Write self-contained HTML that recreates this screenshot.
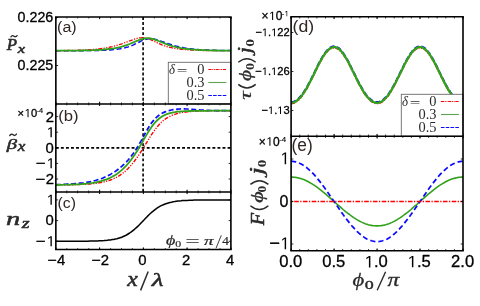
<!DOCTYPE html>
<html><head><meta charset="utf-8"><title>figure</title>
<style>
html,body{margin:0;padding:0;background:#fff;}
body{width:480px;height:306px;overflow:hidden;font-family:"Liberation Sans",sans-serif;}
svg{display:block;will-change:transform;}
</style></head><body>
<svg width="480" height="306" viewBox="0 0 480 306">
<rect width="480" height="306" fill="#fff"/>

<g fill="none" stroke-linejoin="round">
<line x1="143.1" y1="17.0" x2="143.1" y2="191.9" stroke="#000" stroke-width="1.6" stroke-dasharray="2.9,2.15"/>
<line x1="55.85" y1="147.85" x2="230.9" y2="147.85" stroke="#000" stroke-width="1.6" stroke-dasharray="2.9,2.15"/>
<path d="M55.9,50.8L57.5,50.8L59.1,50.8L60.7,50.7L62.3,50.7L63.9,50.7L65.5,50.7L67.1,50.7L68.7,50.7L70.3,50.7L71.9,50.7L73.5,50.7L75.1,50.7L76.7,50.7L78.3,50.7L79.9,50.7L81.5,50.7L83.2,50.7L84.8,50.7L86.4,50.6L88.0,50.6L89.6,50.6L91.2,50.6L92.8,50.6L94.4,50.5L96.0,50.5L97.6,50.5L99.2,50.4L100.8,50.4L102.4,50.3L104.0,50.2L105.6,50.2L107.2,50.1L108.8,50.0L110.5,49.9L112.1,49.7L113.7,49.6L115.3,49.4L116.9,49.2L118.5,49.0L120.1,48.8L121.7,48.5L123.3,48.1L124.9,47.8L126.5,47.3L128.1,46.9L129.7,46.3L131.3,45.7L132.9,45.1L134.5,44.3L136.1,43.6L137.8,42.8L139.4,42.0L141.0,41.2L142.6,40.4L144.2,39.8L145.8,39.3L147.4,38.9L149.0,38.7L150.6,38.7L152.2,38.8L153.8,39.0L155.4,39.4L157.0,39.8L158.6,40.3L160.2,40.9L161.8,41.5L163.4,42.0L165.1,42.6L166.7,43.2L168.3,43.8L169.9,44.3L171.5,44.8L173.1,45.3L174.7,45.8L176.3,46.2L177.9,46.6L179.5,47.0L181.1,47.3L182.7,47.6L184.3,47.9L185.9,48.2L187.5,48.4L189.1,48.6L190.8,48.8L192.4,49.0L194.0,49.2L195.6,49.3L197.2,49.4L198.8,49.6L200.4,49.7L202.0,49.8L203.6,49.9L205.2,50.0L206.8,50.0L208.4,50.1L210.0,50.2L211.6,50.2L213.2,50.3L214.8,50.3L216.4,50.4L218.1,50.4L219.7,50.4L221.3,50.5L222.9,50.5L224.5,50.5L226.1,50.5L227.7,50.6L229.3,50.6L230.9,50.6" stroke="#0a0aff" stroke-width="1.5" stroke-dasharray="5,2.6"/>
<path d="M55.9,50.6L57.5,50.6L59.1,50.6L60.7,50.6L62.3,50.6L63.9,50.5L65.5,50.5L67.1,50.5L68.7,50.5L70.3,50.4L71.9,50.4L73.5,50.3L75.1,50.3L76.7,50.3L78.3,50.2L79.9,50.1L81.5,50.1L83.2,50.0L84.8,49.9L86.4,49.9L88.0,49.8L89.6,49.7L91.2,49.6L92.8,49.4L94.4,49.3L96.0,49.2L97.6,49.0L99.2,48.8L100.8,48.6L102.4,48.4L104.0,48.2L105.6,47.9L107.2,47.6L108.8,47.3L110.5,47.0L112.1,46.7L113.7,46.3L115.3,45.8L116.9,45.4L118.5,44.9L120.1,44.4L121.7,43.9L123.3,43.3L124.9,42.7L126.5,42.1L128.1,41.5L129.7,40.9L131.3,40.3L132.9,39.7L134.5,39.1L136.1,38.6L137.8,38.2L139.4,37.9L141.0,37.8L142.6,37.7L144.2,37.8L145.8,38.1L147.4,38.5L149.0,39.0L150.6,39.6L152.2,40.3L153.8,41.1L155.4,41.9L157.0,42.7L158.6,43.4L160.2,44.1L161.8,44.8L163.4,45.4L165.1,46.0L166.7,46.5L168.3,46.9L169.9,47.4L171.5,47.7L173.1,48.1L174.7,48.4L176.3,48.6L177.9,48.9L179.5,49.1L181.1,49.3L182.7,49.4L184.3,49.6L185.9,49.7L187.5,49.8L189.1,49.9L190.8,50.0L192.4,50.1L194.0,50.2L195.6,50.2L197.2,50.3L198.8,50.4L200.4,50.4L202.0,50.4L203.6,50.5L205.2,50.5L206.8,50.5L208.4,50.6L210.0,50.6L211.6,50.6L213.2,50.6L214.8,50.6L216.4,50.7L218.1,50.7L219.7,50.7L221.3,50.7L222.9,50.7L224.5,50.7L226.1,50.7L227.7,50.7L229.3,50.7L230.9,50.7" stroke="#ff0000" stroke-width="1.3" stroke-dasharray="4,1.4,1.2,1.4,1.2,1.4"/>
<path d="M55.9,50.7L57.5,50.7L59.1,50.7L60.7,50.7L62.3,50.7L63.9,50.7L65.5,50.7L67.1,50.7L68.7,50.7L70.3,50.6L71.9,50.6L73.5,50.6L75.1,50.6L76.7,50.6L78.3,50.6L79.9,50.5L81.5,50.5L83.2,50.5L84.8,50.4L86.4,50.4L88.0,50.4L89.6,50.3L91.2,50.3L92.8,50.2L94.4,50.1L96.0,50.1L97.6,50.0L99.2,49.9L100.8,49.8L102.4,49.7L104.0,49.5L105.6,49.4L107.2,49.2L108.8,49.0L110.5,48.8L112.1,48.6L113.7,48.4L115.3,48.1L116.9,47.8L118.5,47.5L120.1,47.1L121.7,46.7L123.3,46.2L124.9,45.7L126.5,45.2L128.1,44.6L129.7,44.0L131.3,43.3L132.9,42.6L134.5,41.9L136.1,41.2L137.8,40.6L139.4,39.9L141.0,39.4L142.6,38.9L144.2,38.5L145.8,38.3L147.4,38.2L149.0,38.2L150.6,38.5L152.2,38.8L153.8,39.2L155.4,39.8L157.0,40.4L158.6,41.0L160.2,41.7L161.8,42.3L163.4,43.0L165.1,43.6L166.7,44.2L168.3,44.8L169.9,45.3L171.5,45.8L173.1,46.3L174.7,46.7L176.3,47.1L177.9,47.5L179.5,47.8L181.1,48.1L182.7,48.3L184.3,48.6L185.9,48.8L187.5,49.0L189.1,49.2L190.8,49.3L192.4,49.5L194.0,49.6L195.6,49.7L197.2,49.8L198.8,49.9L200.4,50.0L202.0,50.1L203.6,50.2L205.2,50.2L206.8,50.3L208.4,50.3L210.0,50.4L211.6,50.4L213.2,50.4L214.8,50.5L216.4,50.5L218.1,50.5L219.7,50.6L221.3,50.6L222.9,50.6L224.5,50.6L226.1,50.6L227.7,50.6L229.3,50.7L230.9,50.7" stroke="#31a21b" stroke-width="1.8"/>
<path d="M55.9,184.9L57.5,184.9L59.1,184.9L60.7,184.9L62.3,184.9L63.9,184.8L65.5,184.8L67.1,184.8L68.7,184.8L70.3,184.8L71.9,184.7L73.5,184.7L75.1,184.7L76.7,184.6L78.3,184.6L79.9,184.5L81.5,184.4L83.2,184.4L84.8,184.3L86.4,184.2L88.0,184.1L89.6,184.0L91.2,183.8L92.8,183.7L94.4,183.5L96.0,183.3L97.6,183.1L99.2,182.8L100.8,182.6L102.4,182.2L104.0,181.9L105.6,181.5L107.2,181.0L108.8,180.6L110.5,180.0L112.1,179.4L113.7,178.7L115.3,177.9L116.9,177.1L118.5,176.2L120.1,175.1L121.7,174.0L123.3,172.8L124.9,171.5L126.5,170.0L128.1,168.5L129.7,166.8L131.3,165.0L132.9,163.0L134.5,161.0L136.1,158.8L137.8,156.5L139.4,154.2L141.0,151.7L142.6,149.1L144.2,146.5L145.8,143.9L147.4,141.3L149.0,138.7L150.6,136.2L152.2,133.7L153.8,131.4L155.4,129.2L157.0,127.1L158.6,125.2L160.2,123.5L161.8,121.9L163.4,120.5L165.1,119.2L166.7,118.1L168.3,117.1L169.9,116.3L171.5,115.5L173.1,114.9L174.7,114.3L176.3,113.8L177.9,113.4L179.5,113.0L181.1,112.7L182.7,112.4L184.3,112.2L185.9,112.0L187.5,111.8L189.1,111.6L190.8,111.5L192.4,111.4L194.0,111.3L195.6,111.2L197.2,111.1L198.8,111.1L200.4,111.0L202.0,111.0L203.6,110.9L205.2,110.9L206.8,110.9L208.4,110.9L210.0,110.8L211.6,110.8L213.2,110.8L214.8,110.8L216.4,110.8L218.1,110.8L219.7,110.8L221.3,110.8L222.9,110.8L224.5,110.8L226.1,110.7L227.7,110.7L229.3,110.7L230.9,110.7" stroke="#ff0000" stroke-width="1.4" stroke-dasharray="4,1.4,1.2,1.4,1.2,1.4"/>
<path d="M55.9,184.6L57.5,184.6L59.1,184.5L60.7,184.5L62.3,184.4L63.9,184.4L65.5,184.3L67.1,184.2L68.7,184.1L70.3,184.0L71.9,183.9L73.5,183.8L75.1,183.7L76.7,183.6L78.3,183.4L79.9,183.2L81.5,183.1L83.2,182.9L84.8,182.6L86.4,182.4L88.0,182.1L89.6,181.8L91.2,181.5L92.8,181.1L94.4,180.7L96.0,180.3L97.6,179.8L99.2,179.3L100.8,178.8L102.4,178.2L104.0,177.5L105.6,176.8L107.2,176.1L108.8,175.2L110.5,174.4L112.1,173.4L113.7,172.4L115.3,171.4L116.9,170.2L118.5,169.0L120.1,167.7L121.7,166.4L123.3,164.9L124.9,163.4L126.5,161.8L128.1,160.0L129.7,158.1L131.3,156.1L132.9,154.0L134.5,151.7L136.1,149.2L137.8,146.6L139.4,143.9L141.0,141.1L142.6,138.2L144.2,135.2L145.8,132.3L147.4,129.5L149.0,126.8L150.6,124.4L152.2,122.1L153.8,120.1L155.4,118.3L157.0,116.8L158.6,115.5L160.2,114.3L161.8,113.4L163.4,112.6L165.1,111.9L166.7,111.3L168.3,110.8L169.9,110.4L171.5,110.0L173.1,109.7L174.7,109.5L176.3,109.3L177.9,109.1L179.5,109.0L181.1,108.9L182.7,108.9L184.3,108.9L185.9,109.0L187.5,109.0L189.1,109.1L190.8,109.2L192.4,109.3L194.0,109.5L195.6,109.6L197.2,109.7L198.8,109.9L200.4,110.0L202.0,110.1L203.6,110.2L205.2,110.3L206.8,110.4L208.4,110.4L210.0,110.5L211.6,110.6L213.2,110.6L214.8,110.6L216.4,110.6L218.1,110.7L219.7,110.7L221.3,110.7L222.9,110.7L224.5,110.7L226.1,110.7L227.7,110.7L229.3,110.7L230.9,110.7" stroke="#0a0aff" stroke-width="1.7" stroke-dasharray="5,2.6"/>
<path d="M55.9,184.8L57.5,184.8L59.1,184.8L60.7,184.8L62.3,184.8L63.9,184.7L65.5,184.7L67.1,184.7L68.7,184.6L70.3,184.6L71.9,184.5L73.5,184.5L75.1,184.4L76.7,184.3L78.3,184.3L79.9,184.2L81.5,184.1L83.2,183.9L84.8,183.8L86.4,183.7L88.0,183.5L89.6,183.3L91.2,183.1L92.8,182.9L94.4,182.6L96.0,182.3L97.6,182.0L99.2,181.6L100.8,181.2L102.4,180.7L104.0,180.2L105.6,179.7L107.2,179.1L108.8,178.4L110.5,177.6L112.1,176.8L113.7,175.9L115.3,174.9L116.9,173.9L118.5,172.7L120.1,171.4L121.7,170.1L123.3,168.6L124.9,167.0L126.5,165.3L128.1,163.5L129.7,161.6L131.3,159.5L132.9,157.3L134.5,154.9L136.1,152.5L137.8,149.9L139.4,147.2L141.0,144.5L142.6,141.7L144.2,138.9L145.8,136.1L147.4,133.4L149.0,130.8L150.6,128.4L152.2,126.1L153.8,124.0L155.4,122.1L157.0,120.5L158.6,119.0L160.2,117.7L161.8,116.6L163.4,115.7L165.1,114.9L166.7,114.2L168.3,113.7L169.9,113.2L171.5,112.8L173.1,112.4L174.7,112.2L176.3,111.9L177.9,111.7L179.5,111.6L181.1,111.4L182.7,111.3L184.3,111.2L185.9,111.1L187.5,111.1L189.1,111.0L190.8,111.0L192.4,110.9L194.0,110.9L195.6,110.9L197.2,110.8L198.8,110.8L200.4,110.8L202.0,110.8L203.6,110.8L205.2,110.8L206.8,110.8L208.4,110.8L210.0,110.7L211.6,110.7L213.2,110.7L214.8,110.7L216.4,110.7L218.1,110.7L219.7,110.7L221.3,110.7L222.9,110.7L224.5,110.7L226.1,110.7L227.7,110.7L229.3,110.7L230.9,110.7" stroke="#31a21b" stroke-width="1.8"/>
<path d="M55.9,241.3L57.5,241.3L59.1,241.3L60.7,241.3L62.3,241.3L63.9,241.3L65.5,241.3L67.1,241.3L68.7,241.3L70.3,241.3L71.9,241.3L73.5,241.3L75.1,241.3L76.7,241.3L78.3,241.2L79.9,241.2L81.5,241.2L83.2,241.2L84.8,241.2L86.4,241.2L88.0,241.2L89.6,241.1L91.2,241.1L92.8,241.1L94.4,241.0L96.0,241.0L97.6,240.9L99.2,240.8L100.8,240.8L102.4,240.7L104.0,240.6L105.6,240.4L107.2,240.3L108.8,240.1L110.5,239.9L112.1,239.6L113.7,239.4L115.3,239.0L116.9,238.7L118.5,238.2L120.1,237.7L121.7,237.2L123.3,236.5L124.9,235.8L126.5,235.0L128.1,234.0L129.7,233.0L131.3,231.9L132.9,230.6L134.5,229.3L136.1,227.9L137.8,226.4L139.4,224.8L141.0,223.1L142.6,221.4L144.2,219.8L145.8,218.1L147.4,216.4L149.0,214.8L150.6,213.3L152.2,211.9L153.8,210.6L155.4,209.3L157.0,208.2L158.6,207.2L160.2,206.2L161.8,205.4L163.4,204.7L165.1,204.0L166.7,203.5L168.3,203.0L169.9,202.5L171.5,202.2L173.1,201.8L174.7,201.6L176.3,201.3L177.9,201.1L179.5,200.9L181.1,200.8L182.7,200.6L184.3,200.5L185.9,200.4L187.5,200.4L189.1,200.3L190.8,200.2L192.4,200.2L194.0,200.1L195.6,200.1L197.2,200.1L198.8,200.0L200.4,200.0L202.0,200.0L203.6,200.0L205.2,200.0L206.8,200.0L208.4,200.0L210.0,199.9L211.6,199.9L213.2,199.9L214.8,199.9L216.4,199.9L218.1,199.9L219.7,199.9L221.3,199.9L222.9,199.9L224.5,199.9L226.1,199.9L227.7,199.9L229.3,199.9L230.9,199.9" stroke="#000" stroke-width="1.5"/>
<path d="M291.1,102.8L292.7,102.7L294.3,102.2L295.8,101.4L297.4,100.3L299.0,98.8L300.6,97.1L302.1,95.2L303.7,92.9L305.3,90.4L306.9,87.8L308.4,84.9L310.0,81.9L311.6,78.7L313.2,75.5L314.8,72.3L316.3,69.1L317.9,65.9L319.5,62.8L321.1,59.9L322.6,57.2L324.2,54.8L325.8,52.6L327.4,50.7L328.9,49.2L330.5,48.1L332.1,47.4L333.7,47.1L335.3,47.2L336.8,47.7L338.4,48.6L340.0,49.9L341.6,51.6L343.1,53.6L344.7,56.0L346.3,58.5L347.9,61.4L349.5,64.3L351.0,67.5L352.6,70.7L354.2,73.9L355.8,77.1L357.3,80.3L358.9,83.4L360.5,86.3L362.1,89.1L363.6,91.7L365.2,94.1L366.8,96.2L368.4,98.0L370.0,99.6L371.5,100.9L373.1,101.8L374.7,102.5L376.3,102.8L377.8,102.8L379.4,102.5L381.0,101.8L382.6,100.9L384.1,99.6L385.7,98.0L387.3,96.2L388.9,94.1L390.5,91.7L392.0,89.1L393.6,86.3L395.2,83.4L396.8,80.3L398.3,77.1L399.9,73.9L401.5,70.7L403.1,67.5L404.6,64.3L406.2,61.4L407.8,58.5L409.4,56.0L411.0,53.6L412.5,51.6L414.1,49.9L415.7,48.6L417.3,47.7L418.8,47.2L420.4,47.1L422.0,47.4L423.6,48.1L425.2,49.2L426.7,50.7L428.3,52.6L429.9,54.8L431.5,57.2L433.0,59.9L434.6,62.8L436.2,65.9L437.8,69.1L439.3,72.3L440.9,75.5L442.5,78.7L444.1,81.9L445.7,84.9L447.2,87.8L448.8,90.4L450.4,92.9L452.0,95.2L453.5,97.1L455.1,98.8L456.7,100.3L458.3,101.4L459.8,102.2L461.4,102.7L463.0,102.8" stroke="#ff0000" stroke-width="1.5" transform="translate(0,0.8)" stroke-dasharray="4,1.4,1.2,1.4,1.2,1.4"/>
<path d="M291.1,102.8L292.7,102.7L294.3,102.2L295.8,101.4L297.4,100.3L299.0,98.8L300.6,97.1L302.1,95.2L303.7,92.9L305.3,90.4L306.9,87.8L308.4,84.9L310.0,81.9L311.6,78.7L313.2,75.5L314.8,72.3L316.3,69.1L317.9,65.9L319.5,62.8L321.1,59.9L322.6,57.2L324.2,54.8L325.8,52.6L327.4,50.7L328.9,49.2L330.5,48.1L332.1,47.4L333.7,47.1L335.3,47.2L336.8,47.7L338.4,48.6L340.0,49.9L341.6,51.6L343.1,53.6L344.7,56.0L346.3,58.5L347.9,61.4L349.5,64.3L351.0,67.5L352.6,70.7L354.2,73.9L355.8,77.1L357.3,80.3L358.9,83.4L360.5,86.3L362.1,89.1L363.6,91.7L365.2,94.1L366.8,96.2L368.4,98.0L370.0,99.6L371.5,100.9L373.1,101.8L374.7,102.5L376.3,102.8L377.8,102.8L379.4,102.5L381.0,101.8L382.6,100.9L384.1,99.6L385.7,98.0L387.3,96.2L388.9,94.1L390.5,91.7L392.0,89.1L393.6,86.3L395.2,83.4L396.8,80.3L398.3,77.1L399.9,73.9L401.5,70.7L403.1,67.5L404.6,64.3L406.2,61.4L407.8,58.5L409.4,56.0L411.0,53.6L412.5,51.6L414.1,49.9L415.7,48.6L417.3,47.7L418.8,47.2L420.4,47.1L422.0,47.4L423.6,48.1L425.2,49.2L426.7,50.7L428.3,52.6L429.9,54.8L431.5,57.2L433.0,59.9L434.6,62.8L436.2,65.9L437.8,69.1L439.3,72.3L440.9,75.5L442.5,78.7L444.1,81.9L445.7,84.9L447.2,87.8L448.8,90.4L450.4,92.9L452.0,95.2L453.5,97.1L455.1,98.8L456.7,100.3L458.3,101.4L459.8,102.2L461.4,102.7L463.0,102.8" stroke="#0a0aff" stroke-width="1.7" transform="translate(0,-0.9)" stroke-dasharray="5,2.6"/>
<path d="M291.1,102.8L292.7,102.7L294.3,102.2L295.8,101.4L297.4,100.3L299.0,98.8L300.6,97.1L302.1,95.2L303.7,92.9L305.3,90.4L306.9,87.8L308.4,84.9L310.0,81.9L311.6,78.7L313.2,75.5L314.8,72.3L316.3,69.1L317.9,65.9L319.5,62.8L321.1,59.9L322.6,57.2L324.2,54.8L325.8,52.6L327.4,50.7L328.9,49.2L330.5,48.1L332.1,47.4L333.7,47.1L335.3,47.2L336.8,47.7L338.4,48.6L340.0,49.9L341.6,51.6L343.1,53.6L344.7,56.0L346.3,58.5L347.9,61.4L349.5,64.3L351.0,67.5L352.6,70.7L354.2,73.9L355.8,77.1L357.3,80.3L358.9,83.4L360.5,86.3L362.1,89.1L363.6,91.7L365.2,94.1L366.8,96.2L368.4,98.0L370.0,99.6L371.5,100.9L373.1,101.8L374.7,102.5L376.3,102.8L377.8,102.8L379.4,102.5L381.0,101.8L382.6,100.9L384.1,99.6L385.7,98.0L387.3,96.2L388.9,94.1L390.5,91.7L392.0,89.1L393.6,86.3L395.2,83.4L396.8,80.3L398.3,77.1L399.9,73.9L401.5,70.7L403.1,67.5L404.6,64.3L406.2,61.4L407.8,58.5L409.4,56.0L411.0,53.6L412.5,51.6L414.1,49.9L415.7,48.6L417.3,47.7L418.8,47.2L420.4,47.1L422.0,47.4L423.6,48.1L425.2,49.2L426.7,50.7L428.3,52.6L429.9,54.8L431.5,57.2L433.0,59.9L434.6,62.8L436.2,65.9L437.8,69.1L439.3,72.3L440.9,75.5L442.5,78.7L444.1,81.9L445.7,84.9L447.2,87.8L448.8,90.4L450.4,92.9L452.0,95.2L453.5,97.1L455.1,98.8L456.7,100.3L458.3,101.4L459.8,102.2L461.4,102.7L463.0,102.8" stroke="#31a21b" stroke-width="2.3"/>
<path d="M291.1,177.1L292.7,177.1L294.3,177.2L295.8,177.4L297.4,177.7L299.0,178.1L300.6,178.5L302.1,179.0L303.7,179.6L305.3,180.3L306.9,181.0L308.4,181.8L310.0,182.7L311.6,183.6L313.2,184.6L314.8,185.6L316.3,186.7L317.9,187.9L319.5,189.1L321.1,190.3L322.6,191.6L324.2,192.9L325.8,194.2L327.4,195.6L328.9,196.9L330.5,198.3L332.1,199.7L333.7,201.1L335.3,202.6L336.8,204.0L338.4,205.4L340.0,206.7L341.6,208.1L343.1,209.5L344.7,210.8L346.3,212.1L347.9,213.3L349.5,214.5L351.0,215.7L352.6,216.8L354.2,217.9L355.8,218.9L357.3,219.9L358.9,220.8L360.5,221.6L362.1,222.4L363.6,223.1L365.2,223.7L366.8,224.2L368.4,224.7L370.0,225.1L371.5,225.4L373.1,225.7L374.7,225.8L376.3,225.9L377.8,225.9L379.4,225.8L381.0,225.7L382.6,225.4L384.1,225.1L385.7,224.7L387.3,224.2L388.9,223.7L390.5,223.1L392.0,222.4L393.6,221.6L395.2,220.8L396.8,219.9L398.3,218.9L399.9,217.9L401.5,216.8L403.1,215.7L404.6,214.5L406.2,213.3L407.8,212.1L409.4,210.8L411.0,209.5L412.5,208.1L414.1,206.7L415.7,205.4L417.3,204.0L418.8,202.6L420.4,201.1L422.0,199.7L423.6,198.3L425.2,196.9L426.7,195.6L428.3,194.2L429.9,192.9L431.5,191.6L433.0,190.3L434.6,189.1L436.2,187.9L437.8,186.7L439.3,185.6L440.9,184.6L442.5,183.6L444.1,182.7L445.7,181.8L447.2,181.0L448.8,180.3L450.4,179.6L452.0,179.0L453.5,178.5L455.1,178.1L456.7,177.7L458.3,177.4L459.8,177.2L461.4,177.1L463.0,177.1" stroke="#31a21b" stroke-width="1.6"/>
<path d="M291.1,161.3L292.7,161.4L294.3,161.6L295.8,161.9L297.4,162.4L299.0,163.0L300.6,163.7L302.1,164.6L303.7,165.5L305.3,166.6L306.9,167.8L308.4,169.1L310.0,170.6L311.6,172.1L313.2,173.7L314.8,175.4L316.3,177.2L317.9,179.1L319.5,181.1L321.1,183.1L322.6,185.2L324.2,187.3L325.8,189.5L327.4,191.8L328.9,194.0L330.5,196.3L332.1,198.6L333.7,200.9L335.3,203.2L336.8,205.5L338.4,207.8L340.0,210.1L341.6,212.4L343.1,214.6L344.7,216.7L346.3,218.9L347.9,220.9L349.5,222.9L351.0,224.8L352.6,226.7L354.2,228.4L355.8,230.1L357.3,231.7L358.9,233.2L360.5,234.5L362.1,235.8L363.6,236.9L365.2,238.0L366.8,238.9L368.4,239.7L370.0,240.3L371.5,240.8L373.1,241.2L374.7,241.5L376.3,241.6L377.8,241.6L379.4,241.5L381.0,241.2L382.6,240.8L384.1,240.3L385.7,239.7L387.3,238.9L388.9,238.0L390.5,236.9L392.0,235.8L393.6,234.5L395.2,233.2L396.8,231.7L398.3,230.1L399.9,228.4L401.5,226.7L403.1,224.8L404.6,222.9L406.2,220.9L407.8,218.9L409.4,216.7L411.0,214.6L412.5,212.4L414.1,210.1L415.7,207.8L417.3,205.5L418.8,203.2L420.4,200.9L422.0,198.6L423.6,196.3L425.2,194.0L426.7,191.8L428.3,189.5L429.9,187.3L431.5,185.2L433.0,183.1L434.6,181.1L436.2,179.1L437.8,177.2L439.3,175.4L440.9,173.7L442.5,172.1L444.1,170.6L445.7,169.1L447.2,167.8L448.8,166.6L450.4,165.5L452.0,164.6L453.5,163.7L455.1,163.0L456.7,162.4L458.3,161.9L459.8,161.6L461.4,161.4L463.0,161.3" stroke="#0a0aff" stroke-width="1.7" stroke-dasharray="5.2,3"/>
<line x1="291.1" y1="201.5" x2="463.0" y2="201.5" stroke="#ff0000" stroke-width="1.6" stroke-dasharray="4.6,1.4,1.3,1.45" stroke-dashoffset="5.65"/>
</g>
<path d="M55.9,17.0v2.2M99.6,17.0v2.2M143.4,17.0v2.2M187.1,17.0v2.2M230.9,17.0v2.2" stroke="#000" stroke-width="0.9" fill="none"/>
<path d="M55.9,17.0v1.5M66.8,17.0v1.5M77.7,17.0v1.5M88.7,17.0v1.5M99.6,17.0v1.5M110.6,17.0v1.5M121.5,17.0v1.5M132.4,17.0v1.5M143.4,17.0v1.5M154.3,17.0v1.5M165.3,17.0v1.5M176.2,17.0v1.5M187.1,17.0v1.5M198.1,17.0v1.5M209.0,17.0v1.5M220.0,17.0v1.5M230.9,17.0v1.5" stroke="#000" stroke-width="0.7" fill="none"/>
<path d="M55.9,103.9v2.2M99.6,103.9v2.2M143.4,103.9v2.2M187.1,103.9v2.2M230.9,103.9v2.2" stroke="#000" stroke-width="0.9" fill="none"/>
<path d="M55.9,103.9v1.5M66.8,103.9v1.5M77.7,103.9v1.5M88.7,103.9v1.5M99.6,103.9v1.5M110.6,103.9v1.5M121.5,103.9v1.5M132.4,103.9v1.5M143.4,103.9v1.5M154.3,103.9v1.5M165.3,103.9v1.5M176.2,103.9v1.5M187.1,103.9v1.5M198.1,103.9v1.5M209.0,103.9v1.5M220.0,103.9v1.5M230.9,103.9v1.5" stroke="#000" stroke-width="0.7" fill="none"/>
<path d="M55.9,103.9v-2.2M99.6,103.9v-2.2M143.4,103.9v-2.2M187.1,103.9v-2.2M230.9,103.9v-2.2" stroke="#000" stroke-width="0.9" fill="none"/>
<path d="M55.9,103.9v-1.5M66.8,103.9v-1.5M77.7,103.9v-1.5M88.7,103.9v-1.5M99.6,103.9v-1.5M110.6,103.9v-1.5M121.5,103.9v-1.5M132.4,103.9v-1.5M143.4,103.9v-1.5M154.3,103.9v-1.5M165.3,103.9v-1.5M176.2,103.9v-1.5M187.1,103.9v-1.5M198.1,103.9v-1.5M209.0,103.9v-1.5M220.0,103.9v-1.5M230.9,103.9v-1.5" stroke="#000" stroke-width="0.7" fill="none"/>
<path d="M55.9,191.9v2.2M99.6,191.9v2.2M143.4,191.9v2.2M187.1,191.9v2.2M230.9,191.9v2.2" stroke="#000" stroke-width="0.9" fill="none"/>
<path d="M55.9,191.9v1.5M66.8,191.9v1.5M77.7,191.9v1.5M88.7,191.9v1.5M99.6,191.9v1.5M110.6,191.9v1.5M121.5,191.9v1.5M132.4,191.9v1.5M143.4,191.9v1.5M154.3,191.9v1.5M165.3,191.9v1.5M176.2,191.9v1.5M187.1,191.9v1.5M198.1,191.9v1.5M209.0,191.9v1.5M220.0,191.9v1.5M230.9,191.9v1.5" stroke="#000" stroke-width="0.7" fill="none"/>
<path d="M55.9,191.9v-2.2M99.6,191.9v-2.2M143.4,191.9v-2.2M187.1,191.9v-2.2M230.9,191.9v-2.2" stroke="#000" stroke-width="0.9" fill="none"/>
<path d="M55.9,191.9v-1.5M66.8,191.9v-1.5M77.7,191.9v-1.5M88.7,191.9v-1.5M99.6,191.9v-1.5M110.6,191.9v-1.5M121.5,191.9v-1.5M132.4,191.9v-1.5M143.4,191.9v-1.5M154.3,191.9v-1.5M165.3,191.9v-1.5M176.2,191.9v-1.5M187.1,191.9v-1.5M198.1,191.9v-1.5M209.0,191.9v-1.5M220.0,191.9v-1.5M230.9,191.9v-1.5" stroke="#000" stroke-width="0.7" fill="none"/>
<path d="M55.9,249.55v-2.2M99.6,249.55v-2.2M143.4,249.55v-2.2M187.1,249.55v-2.2M230.9,249.55v-2.2" stroke="#000" stroke-width="0.9" fill="none"/>
<path d="M55.9,249.55v-1.5M66.8,249.55v-1.5M77.7,249.55v-1.5M88.7,249.55v-1.5M99.6,249.55v-1.5M110.6,249.55v-1.5M121.5,249.55v-1.5M132.4,249.55v-1.5M143.4,249.55v-1.5M154.3,249.55v-1.5M165.3,249.55v-1.5M176.2,249.55v-1.5M187.1,249.55v-1.5M198.1,249.55v-1.5M209.0,249.55v-1.5M220.0,249.55v-1.5M230.9,249.55v-1.5" stroke="#000" stroke-width="0.7" fill="none"/>
<path d="M55.85,17.5h2.3M55.85,65.5h2.3" stroke="#000" stroke-width="0.8" fill="none"/>
<path d="M230.9,17.5h-2.3M230.9,65.5h-2.3" stroke="#000" stroke-width="0.8" fill="none"/>
<path d="M55.85,116.6h2.3M55.85,132.2h2.3M55.85,147.8h2.3M55.85,163.4h2.3M55.85,179.0h2.3" stroke="#000" stroke-width="0.8" fill="none"/>
<path d="M230.9,116.6h-2.3M230.9,132.2h-2.3M230.9,147.8h-2.3M230.9,163.4h-2.3M230.9,179.0h-2.3" stroke="#000" stroke-width="0.8" fill="none"/>
<path d="M55.85,199.9h2.3M55.85,220.6h2.3M55.85,241.3h2.3" stroke="#000" stroke-width="0.8" fill="none"/>
<path d="M230.9,199.9h-2.3M230.9,220.6h-2.3M230.9,241.3h-2.3" stroke="#000" stroke-width="0.8" fill="none"/>
<path d="M291.1,16.8v2.3M334.1,16.8v2.3M377.1,16.8v2.3M420.0,16.8v2.3M463.0,16.8v2.3" stroke="#000" stroke-width="0.9" fill="none"/>
<path d="M291.1,16.8v1.7M299.7,16.8v1.7M308.3,16.8v1.7M316.9,16.8v1.7M325.5,16.8v1.7M334.1,16.8v1.7M342.7,16.8v1.7M351.3,16.8v1.7M359.9,16.8v1.7M368.5,16.8v1.7M377.1,16.8v1.7M385.6,16.8v1.7M394.2,16.8v1.7M402.8,16.8v1.7M411.4,16.8v1.7M420.0,16.8v1.7M428.6,16.8v1.7M437.2,16.8v1.7M445.8,16.8v1.7M454.4,16.8v1.7M463.0,16.8v1.7" stroke="#000" stroke-width="0.75" fill="none"/>
<path d="M291.1,136.2v2.3M334.1,136.2v2.3M377.1,136.2v2.3M420.0,136.2v2.3M463.0,136.2v2.3" stroke="#000" stroke-width="0.9" fill="none"/>
<path d="M291.1,136.2v1.7M299.7,136.2v1.7M308.3,136.2v1.7M316.9,136.2v1.7M325.5,136.2v1.7M334.1,136.2v1.7M342.7,136.2v1.7M351.3,136.2v1.7M359.9,136.2v1.7M368.5,136.2v1.7M377.1,136.2v1.7M385.6,136.2v1.7M394.2,136.2v1.7M402.8,136.2v1.7M411.4,136.2v1.7M420.0,136.2v1.7M428.6,136.2v1.7M437.2,136.2v1.7M445.8,136.2v1.7M454.4,136.2v1.7M463.0,136.2v1.7" stroke="#000" stroke-width="0.75" fill="none"/>
<path d="M291.1,136.2v-2.3M334.1,136.2v-2.3M377.1,136.2v-2.3M420.0,136.2v-2.3M463.0,136.2v-2.3" stroke="#000" stroke-width="0.9" fill="none"/>
<path d="M291.1,136.2v-1.7M299.7,136.2v-1.7M308.3,136.2v-1.7M316.9,136.2v-1.7M325.5,136.2v-1.7M334.1,136.2v-1.7M342.7,136.2v-1.7M351.3,136.2v-1.7M359.9,136.2v-1.7M368.5,136.2v-1.7M377.1,136.2v-1.7M385.6,136.2v-1.7M394.2,136.2v-1.7M402.8,136.2v-1.7M411.4,136.2v-1.7M420.0,136.2v-1.7M428.6,136.2v-1.7M437.2,136.2v-1.7M445.8,136.2v-1.7M454.4,136.2v-1.7M463.0,136.2v-1.7" stroke="#000" stroke-width="0.75" fill="none"/>
<path d="M291.1,250.7v-2.3M334.1,250.7v-2.3M377.1,250.7v-2.3M420.0,250.7v-2.3M463.0,250.7v-2.3" stroke="#000" stroke-width="0.9" fill="none"/>
<path d="M291.1,250.7v-1.7M299.7,250.7v-1.7M308.3,250.7v-1.7M316.9,250.7v-1.7M325.5,250.7v-1.7M334.1,250.7v-1.7M342.7,250.7v-1.7M351.3,250.7v-1.7M359.9,250.7v-1.7M368.5,250.7v-1.7M377.1,250.7v-1.7M385.6,250.7v-1.7M394.2,250.7v-1.7M402.8,250.7v-1.7M411.4,250.7v-1.7M420.0,250.7v-1.7M428.6,250.7v-1.7M437.2,250.7v-1.7M445.8,250.7v-1.7M454.4,250.7v-1.7M463.0,250.7v-1.7" stroke="#000" stroke-width="0.75" fill="none"/>
<path d="M291.1,32.5h2.3M291.1,71.5h2.3M291.1,110.5h2.3" stroke="#000" stroke-width="0.8" fill="none"/>
<path d="M291.1,159.0h2.3M291.1,201.5h2.3M291.1,244.0h2.3" stroke="#000" stroke-width="0.8" fill="none"/>
<path d="M463.0,159.0h-2.3M463.0,201.5h-2.3M463.0,244.0h-2.3" stroke="#000" stroke-width="0.8" fill="none"/>
<g><rect x="168.3" y="62.3" width="62.6" height="41.6" fill="#fff" stroke="#6e6868" stroke-width="0.9"/><text transform="matrix(0.1293 0 0 0.1411 169.02 74.06)" font-size="100" font-family="Liberation Serif, serif" font-style="italic" fill="#2a2a2a" style="font-kerning:none" >δ</text><text transform="matrix(0.1891 0 0 0.1200 176.76 74.78)" font-size="100" font-family="Liberation Serif, serif" fill="#2a2a2a" style="font-kerning:none" >=</text><text transform="matrix(0.1440 0 0 0.1370 197.25 74.19)" font-size="100" font-family="Liberation Serif, serif" fill="#2a2a2a" style="font-kerning:none" >0</text><text transform="matrix(0.1440 0 0 0.1370 186.46 86.66)" font-size="100" font-family="Liberation Serif, serif" fill="#2a2a2a" style="font-kerning:none" >0.3</text><text transform="matrix(0.1440 0 0 0.1370 186.46 99.96)" font-size="100" font-family="Liberation Serif, serif" fill="#2a2a2a" style="font-kerning:none" >0.5</text><line x1="208.3" y1="69.5" x2="226.3" y2="69.5" stroke="#ff0000" stroke-width="1" stroke-dasharray="3.2,0.75,0.9,0.75,0.9,0.75"/><line x1="208.3" y1="82.5" x2="226.3" y2="82.5" stroke="#62a053" stroke-width="1.1"/><line x1="208.3" y1="95.5" x2="226.3" y2="95.5" stroke="#0a0aff" stroke-width="1.1" stroke-dasharray="3.6,1.2"/></g>
<g><rect x="401.3" y="94.3" width="61.7" height="41.9" fill="#fff" stroke="#6e6868" stroke-width="0.9"/><text transform="matrix(0.1293 0 0 0.1411 402.02 106.06)" font-size="100" font-family="Liberation Serif, serif" font-style="italic" fill="#2a2a2a" style="font-kerning:none" >δ</text><text transform="matrix(0.1891 0 0 0.1200 409.76 106.78)" font-size="100" font-family="Liberation Serif, serif" fill="#2a2a2a" style="font-kerning:none" >=</text><text transform="matrix(0.1440 0 0 0.1370 429.25 106.19)" font-size="100" font-family="Liberation Serif, serif" fill="#2a2a2a" style="font-kerning:none" >0</text><text transform="matrix(0.1440 0 0 0.1370 418.46 118.66)" font-size="100" font-family="Liberation Serif, serif" fill="#2a2a2a" style="font-kerning:none" >0.3</text><text transform="matrix(0.1440 0 0 0.1370 418.46 131.96)" font-size="100" font-family="Liberation Serif, serif" fill="#2a2a2a" style="font-kerning:none" >0.5</text><line x1="440.90000000000003" y1="101.5" x2="458.90000000000003" y2="101.5" stroke="#ff0000" stroke-width="1" stroke-dasharray="3.2,0.75,0.9,0.75,0.9,0.75"/><line x1="440.90000000000003" y1="114.5" x2="458.90000000000003" y2="114.5" stroke="#62a053" stroke-width="1.1"/><line x1="440.90000000000003" y1="127.5" x2="458.90000000000003" y2="127.5" stroke="#0a0aff" stroke-width="1.1" stroke-dasharray="3.6,1.2"/></g>
<g fill="none" stroke="#000"><path stroke-width="1.45" d="M55.050000000000004,17.0H231.70000000000002M55.85,103.9H230.9M55.85,191.9H230.9M55.050000000000004,249.55H231.70000000000002M290.3,16.8H463.8M291.1,136.2H463.0M290.3,250.7H463.8"/><path stroke-width="1.6" d="M55.85,17.0V249.55M230.9,17.0V249.55M291.1,16.8V250.7M463.0,16.8V250.7"/></g>
<text transform="matrix(0.1430 0 0 0.1450 17.54 21.59)" font-size="100" font-family="Liberation Sans, sans-serif" fill="#000" style="font-kerning:none"  stroke="#000" stroke-width="2.08" stroke-linejoin="round">0.226</text>
<text transform="matrix(0.1430 0 0 0.1450 17.52 70.09)" font-size="100" font-family="Liberation Sans, sans-serif" fill="#000" style="font-kerning:none"  stroke="#000" stroke-width="2.08" stroke-linejoin="round">0.225</text>
<text transform="matrix(0.1490 0 0 0.1450 45.76 121.61)" font-size="100" font-family="Liberation Sans, sans-serif" fill="#000" style="font-kerning:none"  stroke="#000" stroke-width="2.04" stroke-linejoin="round">2</text>
<g transform="matrix(0.1490 0 0 0.1450 46.74 137.14)" font-size="100" font-family="Liberation Sans, sans-serif" fill="#000" style="font-kerning:none"  stroke="#000" stroke-width="2.04" stroke-linejoin="round"><path transform="translate(0.00 0) scale(0.04883 -0.04883)" d="M515 0V1237L197 1010V1180L530 1409H696V0Z"/></g>
<text transform="matrix(0.1490 0 0 0.1450 45.60 152.74)" font-size="100" font-family="Liberation Sans, sans-serif" fill="#000" style="font-kerning:none"  stroke="#000" stroke-width="2.04" stroke-linejoin="round">0</text>
<g transform="matrix(0.1490 0 0 0.1450 46.74 168.34)" font-size="100" font-family="Liberation Sans, sans-serif" fill="#000" style="font-kerning:none"  stroke="#000" stroke-width="2.04" stroke-linejoin="round"><path transform="translate(0.00 0) scale(0.04883 -0.04883)" d="M515 0V1237L197 1010V1180L530 1409H696V0Z"/></g><text transform="matrix(0.1713 0 0 0.1450 35.54 168.34)" font-size="100" font-family="Liberation Sans, sans-serif" fill="#000" style="font-kerning:none"  stroke="#000" stroke-width="1.90" stroke-linejoin="round">−</text>
<text transform="matrix(0.1490 0 0 0.1450 45.76 184.01)" font-size="100" font-family="Liberation Sans, sans-serif" fill="#000" style="font-kerning:none"  stroke="#000" stroke-width="2.04" stroke-linejoin="round">2</text><text transform="matrix(0.1713 0 0 0.1450 35.27 184.01)" font-size="100" font-family="Liberation Sans, sans-serif" fill="#000" style="font-kerning:none"  stroke="#000" stroke-width="1.90" stroke-linejoin="round">−</text>
<g transform="matrix(0.1490 0 0 0.1450 46.74 204.79)" font-size="100" font-family="Liberation Sans, sans-serif" fill="#000" style="font-kerning:none"  stroke="#000" stroke-width="2.04" stroke-linejoin="round"><path transform="translate(0.00 0) scale(0.04883 -0.04883)" d="M515 0V1237L197 1010V1180L530 1409H696V0Z"/></g>
<text transform="matrix(0.1490 0 0 0.1450 45.60 225.49)" font-size="100" font-family="Liberation Sans, sans-serif" fill="#000" style="font-kerning:none"  stroke="#000" stroke-width="2.04" stroke-linejoin="round">0</text>
<g transform="matrix(0.1490 0 0 0.1450 46.74 246.19)" font-size="100" font-family="Liberation Sans, sans-serif" fill="#000" style="font-kerning:none"  stroke="#000" stroke-width="2.04" stroke-linejoin="round"><path transform="translate(0.00 0) scale(0.04883 -0.04883)" d="M515 0V1237L197 1010V1180L530 1409H696V0Z"/></g><text transform="matrix(0.1713 0 0 0.1450 35.54 246.19)" font-size="100" font-family="Liberation Sans, sans-serif" fill="#000" style="font-kerning:none"  stroke="#000" stroke-width="1.90" stroke-linejoin="round">−</text>
<text transform="matrix(0.1490 0 0 0.1450 56.95 264.99)" font-size="100" font-family="Liberation Sans, sans-serif" fill="#000" style="font-kerning:none"  stroke="#000" stroke-width="2.04" stroke-linejoin="round">4</text><text transform="matrix(0.1609 0 0 0.1450 47.31 264.99)" font-size="100" font-family="Liberation Sans, sans-serif" fill="#000" style="font-kerning:none"  stroke="#000" stroke-width="1.96" stroke-linejoin="round">−</text>
<text transform="matrix(0.1490 0 0 0.1450 100.87 265.06)" font-size="100" font-family="Liberation Sans, sans-serif" fill="#000" style="font-kerning:none"  stroke="#000" stroke-width="2.04" stroke-linejoin="round">2</text><text transform="matrix(0.1609 0 0 0.1450 91.23 265.06)" font-size="100" font-family="Liberation Sans, sans-serif" fill="#000" style="font-kerning:none"  stroke="#000" stroke-width="1.96" stroke-linejoin="round">−</text>
<text transform="matrix(0.1490 0 0 0.1450 138.33 264.99)" font-size="100" font-family="Liberation Sans, sans-serif" fill="#000" style="font-kerning:none"  stroke="#000" stroke-width="2.04" stroke-linejoin="round">0</text>
<text transform="matrix(0.1490 0 0 0.1450 182.09 265.06)" font-size="100" font-family="Liberation Sans, sans-serif" fill="#000" style="font-kerning:none"  stroke="#000" stroke-width="2.04" stroke-linejoin="round">2</text>
<text transform="matrix(0.1490 0 0 0.1450 225.90 264.99)" font-size="100" font-family="Liberation Sans, sans-serif" fill="#000" style="font-kerning:none"  stroke="#000" stroke-width="2.04" stroke-linejoin="round">4</text>
<text transform="matrix(0.1120 0 0 0.1180 17.62 117.28)" font-size="100" font-family="Liberation Sans, sans-serif" fill="#000" style="font-kerning:none"  stroke="#000" stroke-width="2.61" stroke-linejoin="round">×</text><g transform="matrix(0.1120 0 0 0.1180 24.71 117.14)" font-size="100" font-family="Liberation Sans, sans-serif" fill="#000" style="font-kerning:none"  stroke="#000" stroke-width="2.61" stroke-linejoin="round"><path transform="translate(0.00 0) scale(0.04883 -0.04883)" d="M515 0V1237L197 1010V1180L530 1409H696V0Z"/><text x="55.62" y="0">0</text></g><text transform="matrix(0.0739 0 0 0.0732 36.66 113.33)" font-size="100" font-family="Liberation Sans, sans-serif" fill="#000" style="font-kerning:none"  stroke="#000" stroke-width="2.04" stroke-linejoin="round">-4</text>
<text transform="matrix(0.1200 0 0 0.1220 261.47 20.21)" font-size="100" font-family="Liberation Sans, sans-serif" fill="#000" style="font-kerning:none"  stroke="#000" stroke-width="2.48" stroke-linejoin="round">×</text><g transform="matrix(0.1200 0 0 0.1220 269.07 20.12)" font-size="100" font-family="Liberation Sans, sans-serif" fill="#000" style="font-kerning:none"  stroke="#000" stroke-width="2.48" stroke-linejoin="round"><path transform="translate(0.00 0) scale(0.04883 -0.04883)" d="M515 0V1237L197 1010V1180L530 1409H696V0Z"/><text x="55.62" y="0">0</text></g><g transform="matrix(0.0792 0 0 0.0756 281.87 16.20)" font-size="100" font-family="Liberation Sans, sans-serif" fill="#000" style="font-kerning:none"  stroke="#000" stroke-width="1.94" stroke-linejoin="round"><text x="0.00" y="0">-</text><path transform="translate(33.30 0) scale(0.04883 -0.04883)" d="M515 0V1237L197 1010V1180L530 1409H696V0Z"/></g>
<text transform="matrix(0.1200 0 0 0.1220 258.77 145.81)" font-size="100" font-family="Liberation Sans, sans-serif" fill="#000" style="font-kerning:none"  stroke="#000" stroke-width="2.48" stroke-linejoin="round">×</text><g transform="matrix(0.1200 0 0 0.1220 266.37 145.72)" font-size="100" font-family="Liberation Sans, sans-serif" fill="#000" style="font-kerning:none"  stroke="#000" stroke-width="2.48" stroke-linejoin="round"><path transform="translate(0.00 0) scale(0.04883 -0.04883)" d="M515 0V1237L197 1010V1180L530 1409H696V0Z"/><text x="55.62" y="0">0</text></g><text transform="matrix(0.0792 0 0 0.0756 279.17 141.80)" font-size="100" font-family="Liberation Sans, sans-serif" fill="#000" style="font-kerning:none"  stroke="#000" stroke-width="1.94" stroke-linejoin="round">-4</text>
<g transform="matrix(0.1110 0 0 0.1110 255.40 36.18)" font-size="100" font-family="Liberation Sans, sans-serif" fill="#000" style="font-kerning:none"  stroke="#000" stroke-width="2.70" stroke-linejoin="round"><text x="0.00" y="0">−</text><path transform="translate(58.40 0) scale(0.04883 -0.04883)" d="M515 0V1237L197 1010V1180L530 1409H696V0Z"/><text x="114.01" y="0">.</text><path transform="translate(141.80 0) scale(0.04883 -0.04883)" d="M515 0V1237L197 1010V1180L530 1409H696V0Z"/><text x="197.41" y="0">22</text></g>
<g transform="matrix(0.1110 0 0 0.1110 255.33 75.12)" font-size="100" font-family="Liberation Sans, sans-serif" fill="#000" style="font-kerning:none"  stroke="#000" stroke-width="2.70" stroke-linejoin="round"><text x="0.00" y="0">−</text><path transform="translate(58.40 0) scale(0.04883 -0.04883)" d="M515 0V1237L197 1010V1180L530 1409H696V0Z"/><text x="114.01" y="0">.</text><path transform="translate(141.80 0) scale(0.04883 -0.04883)" d="M515 0V1237L197 1010V1180L530 1409H696V0Z"/><text x="197.41" y="0">26</text></g>
<g transform="matrix(0.1110 0 0 0.1110 261.50 114.12)" font-size="100" font-family="Liberation Sans, sans-serif" fill="#000" style="font-kerning:none"  stroke="#000" stroke-width="2.70" stroke-linejoin="round"><text x="0.00" y="0">−</text><path transform="translate(58.40 0) scale(0.04883 -0.04883)" d="M515 0V1237L197 1010V1180L530 1409H696V0Z"/><text x="114.01" y="0">.</text><path transform="translate(141.80 0) scale(0.04883 -0.04883)" d="M515 0V1237L197 1010V1180L530 1409H696V0Z"/><text x="197.41" y="0">3</text></g>
<g transform="matrix(0.1600 0 0 0.1720 280.66 164.22)" font-size="100" font-family="Liberation Sans, sans-serif" fill="#000" style="font-kerning:none"  stroke="#000" stroke-width="1.81" stroke-linejoin="round"><path transform="translate(0.00 0) scale(0.04883 -0.04883)" d="M515 0V1237L197 1010V1180L530 1409H696V0Z"/></g>
<text transform="matrix(0.1600 0 0 0.1720 279.43 206.72)" font-size="100" font-family="Liberation Sans, sans-serif" fill="#000" style="font-kerning:none"  stroke="#000" stroke-width="1.81" stroke-linejoin="round">0</text>
<g transform="matrix(0.1600 0 0 0.1720 280.66 249.22)" font-size="100" font-family="Liberation Sans, sans-serif" fill="#000" style="font-kerning:none"  stroke="#000" stroke-width="1.81" stroke-linejoin="round"><path transform="translate(0.00 0) scale(0.04883 -0.04883)" d="M515 0V1237L197 1010V1180L530 1409H696V0Z"/></g><text transform="matrix(0.1840 0 0 0.1720 269.23 249.22)" font-size="100" font-family="Liberation Sans, sans-serif" fill="#000" style="font-kerning:none"  stroke="#000" stroke-width="1.69" stroke-linejoin="round">−</text>
<text transform="matrix(0.1660 0 0 0.1650 279.26 267.38)" font-size="100" font-family="Liberation Sans, sans-serif" fill="#000" style="font-kerning:none"  stroke="#000" stroke-width="1.81" stroke-linejoin="round">0.0</text>
<text transform="matrix(0.1660 0 0 0.1650 322.26 267.38)" font-size="100" font-family="Liberation Sans, sans-serif" fill="#000" style="font-kerning:none"  stroke="#000" stroke-width="1.81" stroke-linejoin="round">0.5</text>
<g transform="matrix(0.1660 0 0 0.1650 364.74 267.38)" font-size="100" font-family="Liberation Sans, sans-serif" fill="#000" style="font-kerning:none"  stroke="#000" stroke-width="1.81" stroke-linejoin="round"><path transform="translate(0.00 0) scale(0.04883 -0.04883)" d="M515 0V1237L197 1010V1180L530 1409H696V0Z"/><text x="55.62" y="0">.0</text></g>
<g transform="matrix(0.1660 0 0 0.1650 407.74 267.30)" font-size="100" font-family="Liberation Sans, sans-serif" fill="#000" style="font-kerning:none"  stroke="#000" stroke-width="1.81" stroke-linejoin="round"><path transform="translate(0.00 0) scale(0.04883 -0.04883)" d="M515 0V1237L197 1010V1180L530 1409H696V0Z"/><text x="55.62" y="0">.5</text></g>
<text transform="matrix(0.1660 0 0 0.1650 451.07 267.38)" font-size="100" font-family="Liberation Sans, sans-serif" fill="#000" style="font-kerning:none"  stroke="#000" stroke-width="1.81" stroke-linejoin="round">2.0</text>
<text transform="matrix(0.1603 0 0 0.1524 57.11 32.04)" font-size="100" font-family="Liberation Sans, sans-serif" fill="#332525" style="font-kerning:none" >(a)</text>
<text transform="matrix(0.1666 0 0 0.1492 58.27 120.71)" font-size="100" font-family="Liberation Sans, sans-serif" fill="#332525" style="font-kerning:none" >(b)</text>
<text transform="matrix(0.1584 0 0 0.1471 57.52 207.96)" font-size="100" font-family="Liberation Sans, sans-serif" fill="#332525" style="font-kerning:none" >(c)</text>
<text transform="matrix(0.1767 0 0 0.1728 292.50 31.52)" font-size="100" font-family="Liberation Sans, sans-serif" fill="#332525" style="font-kerning:none" >(d)</text>
<text transform="matrix(0.1730 0 0 0.1760 291.53 151.16)" font-size="100" font-family="Liberation Sans, sans-serif" fill="#332525" style="font-kerning:none" >(e)</text>
<text transform="matrix(0.1676 0 0 0.1665 6.69 50.30)" font-size="100" font-family="Liberation Serif, serif" font-style="italic" fill="#2b2b2b" style="font-kerning:none"  stroke="#2b2b2b" stroke-width="3.59" stroke-linejoin="round">P</text>
<text transform="matrix(0.1649 0 0 0.1155 17.80 52.80)" font-size="100" font-family="Liberation Serif, serif" font-style="italic" fill="#2b2b2b" style="font-kerning:none"  stroke="#2b2b2b" stroke-width="4.28" stroke-linejoin="round">x</text>
<path d="M10.90,36.80 Q12.45,34.88 14.00,36.20 T17.10,35.60" fill="none" stroke="#2b2b2b" stroke-width="1.35" stroke-linecap="round"/>
<text transform="matrix(0.2068 0 0 0.1505 6.73 148.50)" font-size="100" font-family="Liberation Serif, serif" font-style="italic" fill="#2b2b2b" style="font-kerning:none"  stroke="#2b2b2b" stroke-width="3.36" stroke-linejoin="round">β</text>
<text transform="matrix(0.1716 0 0 0.1482 17.71 150.60)" font-size="100" font-family="Liberation Serif, serif" font-style="italic" fill="#2b2b2b" style="font-kerning:none"  stroke="#2b2b2b" stroke-width="3.75" stroke-linejoin="round">x</text>
<path d="M9.80,135.50 Q11.45,133.26 13.10,134.80 T16.40,134.10" fill="none" stroke="#2b2b2b" stroke-width="1.4" stroke-linecap="round"/>
<text transform="matrix(0.2838 0 0 0.1931 5.99 224.70)" font-size="100" font-family="Liberation Serif, serif" font-style="italic" fill="#2b2b2b" style="font-kerning:none"  stroke="#2b2b2b" stroke-width="2.52" stroke-linejoin="round">n</text>
<text transform="matrix(0.2014 0 0 0.1438 21.73 227.60)" font-size="100" font-family="Liberation Serif, serif" font-style="italic" fill="#2b2b2b" style="font-kerning:none"  stroke="#2b2b2b" stroke-width="3.48" stroke-linejoin="round">z</text>
<text transform="matrix(0.2362 0 0 0.2026 127.19 286.00)" font-size="100" font-family="Liberation Serif, serif" font-style="italic" fill="#2b2b2b" style="font-kerning:none"  stroke="#2b2b2b" stroke-width="2.73" stroke-linejoin="round">x</text>
<line x1="140.6" y1="290.4" x2="148.2" y2="271.5" stroke="#2b2b2b" stroke-width="1.5"/>
<text transform="matrix(0.2728 0 0 0.1917 151.67 285.80)" font-size="100" font-family="Liberation Serif, serif" font-style="italic" fill="#2b2b2b" style="font-kerning:none"  stroke="#2b2b2b" stroke-width="2.58" stroke-linejoin="round">λ</text>
<text transform="matrix(0.2271 0 0 0.1864 352.38 285.63)" font-size="100" font-family="Liberation Serif, serif" font-style="italic" fill="#2b2b2b" style="font-kerning:none"  stroke="#2b2b2b" stroke-width="1.45" stroke-linejoin="round">ϕ</text>
<text transform="matrix(0.1793 0 0 0.1260 364.82 288.88)" font-size="100" font-family="Liberation Serif, serif" fill="#2b2b2b" style="font-kerning:none"  stroke="#2b2b2b" stroke-width="3.28" stroke-linejoin="round">0</text>
<line x1="377.2" y1="290.3" x2="385.6" y2="271.8" stroke="#2b2b2b" stroke-width="1.4"/>
<text transform="matrix(0.2353 0 0 0.1813 387.57 286.02)" font-size="100" font-family="Liberation Serif, serif" font-style="italic" fill="#2b2b2b" style="font-kerning:none"  stroke="#2b2b2b" stroke-width="1.68" stroke-linejoin="round">π</text>
<text transform="matrix(0.1804 0 0 0.1357 165.99 245.11)" font-size="100" font-family="Liberation Serif, serif" font-style="italic" fill="#2a2a2a" style="font-kerning:none"  stroke="#2a2a2a" stroke-width="1.58" stroke-linejoin="round">ϕ</text>
<text transform="matrix(0.1180 0 0 0.0815 175.25 246.72)" font-size="100" font-family="Liberation Serif, serif" fill="#2a2a2a" style="font-kerning:none"  stroke="#2a2a2a" stroke-width="2.01" stroke-linejoin="round">0</text>
<text transform="matrix(0.2514 0 0 0.1400 185.45 245.80)" font-size="100" font-family="Liberation Serif, serif" fill="#2a2a2a" style="font-kerning:none"  stroke="#2a2a2a" stroke-width="1.28" stroke-linejoin="round">=</text>
<text transform="matrix(0.1909 0 0 0.1344 204.00 244.97)" font-size="100" font-family="Liberation Serif, serif" font-style="italic" fill="#2a2a2a" style="font-kerning:none"  stroke="#2a2a2a" stroke-width="1.84" stroke-linejoin="round">π</text>
<line x1="216.0" y1="248.3" x2="221.3" y2="235.3" stroke="#2a2a2a" stroke-width="0.9"/>
<text transform="matrix(0.1334 0 0 0.1307 222.34 245.30)" font-size="100" font-family="Liberation Serif, serif" fill="#2a2a2a" style="font-kerning:none"  stroke="#2a2a2a" stroke-width="1.51" stroke-linejoin="round">4</text>
<g transform="translate(251.5,99.3) rotate(-90)"><text transform="matrix(0.2376 0 0 0.1749 -0.52 -0.07)" font-size="100" font-family="Liberation Serif, serif" font-style="italic" fill="#2b2b2b" style="font-kerning:none"  stroke="#2b2b2b" stroke-width="1.45" stroke-linejoin="round">τ</text><path d="M14.9,-13.2 Q7.7,-4.5 14.9,4.2" fill="none" stroke="#2b2b2b" stroke-width="1.45"/><text transform="matrix(0.2122 0 0 0.1621 18.31 -0.75)" font-size="100" font-family="Liberation Serif, serif" font-style="italic" fill="#2b2b2b" style="font-kerning:none"  stroke="#2b2b2b" stroke-width="1.87" stroke-linejoin="round">ϕ</text><text transform="matrix(0.1416 0 0 0.1274 29.36 2.28)" font-size="100" font-family="Liberation Serif, serif" font-weight="bold" fill="#2b2b2b" style="font-kerning:none" >0</text><path d="M37.0,-13.2 Q44.2,-4.5 37.0,4.2" fill="none" stroke="#2b2b2b" stroke-width="1.45"/><text transform="matrix(0.2248 0 0 0.1806 46.00 -0.44)" font-size="100" font-family="Liberation Serif, serif" font-style="italic" fill="#2b2b2b" style="font-kerning:none"  stroke="#2b2b2b" stroke-width="2.96" stroke-linejoin="round">j</text><text transform="matrix(0.1557 0 0 0.1260 52.61 2.18)" font-size="100" font-family="Liberation Serif, serif" font-weight="bold" fill="#2b2b2b" style="font-kerning:none" >0</text></g>
<g transform="translate(264.0,225.6) rotate(-90)"><text transform="matrix(0.2018 0 0 0.1863 0.41 0.00)" font-size="100" font-family="Liberation Serif, serif" font-style="italic" fill="#2b2b2b" style="font-kerning:none"  stroke="#2b2b2b" stroke-width="3.09" stroke-linejoin="round">F</text><path d="M19.9,-13.6 Q12.5,-4.6 19.9,4.4" fill="none" stroke="#2b2b2b" stroke-width="1.45"/><text transform="matrix(0.2207 0 0 0.1676 22.79 -0.77)" font-size="100" font-family="Liberation Serif, serif" font-style="italic" fill="#2b2b2b" style="font-kerning:none"  stroke="#2b2b2b" stroke-width="1.80" stroke-linejoin="round">ϕ</text><text transform="matrix(0.1368 0 0 0.1319 33.18 2.37)" font-size="100" font-family="Liberation Serif, serif" font-weight="bold" fill="#2b2b2b" style="font-kerning:none" >0</text><path d="M41.2,-13.6 Q48.6,-4.6 41.2,4.4" fill="none" stroke="#2b2b2b" stroke-width="1.45"/><text transform="matrix(0.2609 0 0 0.1886 50.99 -0.51)" font-size="100" font-family="Liberation Serif, serif" font-style="italic" fill="#2b2b2b" style="font-kerning:none"  stroke="#2b2b2b" stroke-width="2.67" stroke-linejoin="round">j</text><text transform="matrix(0.1510 0 0 0.1304 58.32 2.27)" font-size="100" font-family="Liberation Serif, serif" font-weight="bold" fill="#2b2b2b" style="font-kerning:none" >0</text></g>
</svg></body></html>
